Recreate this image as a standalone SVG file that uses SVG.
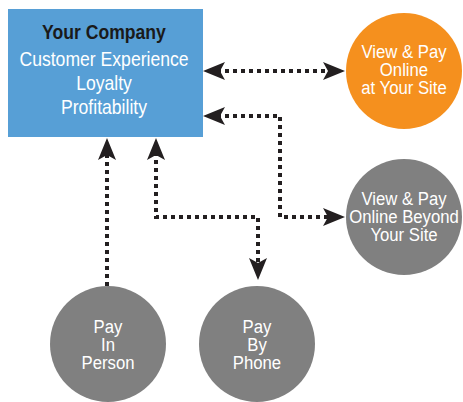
<svg xmlns="http://www.w3.org/2000/svg" width="463" height="402" viewBox="0 0 463 402">
  <style>
    .t { font-family: "Liberation Sans", Arial, sans-serif; font-size: 19px; fill: #ffffff; text-anchor: middle; }
    .bt { font-family: "Liberation Sans", Arial, sans-serif; font-size: 20px; fill: #ffffff; text-anchor: middle; }
    .conn { fill: none; stroke: #231f20; stroke-width: 4; stroke-dasharray: 4 4; }
  </style>
  <defs>
    <marker id="arr" markerUnits="userSpaceOnUse" markerWidth="40" markerHeight="40" viewBox="-20 -20 40 40" refX="0" refY="0" orient="auto-start-reverse">
      <path d="M14,0 L-8,-9 L-3,0 L-8,9 Z" fill="#231f20"/>
    </marker>
  </defs>
  <rect width="463" height="402" fill="#ffffff"/>

  <g id="company">
    <rect x="8" y="9" width="195" height="128" fill="#579fd6"/>
    <g transform="translate(104,0) scale(0.88,1)">
      <text class="bt" x="0" y="39" style="font-weight:bold; fill:#1a1a1a">Your Company</text>
      <text class="bt" x="0" y="66">Customer Experience</text>
      <text class="bt" x="0" y="90">Loyalty</text>
      <text class="bt" x="0" y="114">Profitability</text>
    </g>
  </g>

  <g id="online-site">
    <circle cx="404" cy="71" r="58" fill="#f5901e"/>
    <g transform="translate(404,0) scale(0.88,1)">
      <text class="t" x="0" y="58">View &amp; Pay</text>
      <text class="t" x="0" y="76">Online</text>
      <text class="t" x="0" y="94">at Your Site</text>
    </g>
  </g>

  <g id="online-beyond">
    <circle cx="404" cy="217" r="58" fill="#808080"/>
    <g transform="translate(404,0) scale(0.88,1)">
      <text class="t" x="0" y="205">View &amp; Pay</text>
      <text class="t" x="0" y="223">Online Beyond</text>
      <text class="t" x="0" y="241">Your Site</text>
    </g>
  </g>

  <g id="in-person">
    <circle cx="108" cy="344" r="58" fill="#808080"/>
    <g transform="translate(108,0) scale(0.88,1)">
      <text class="t" x="0" y="333">Pay</text>
      <text class="t" x="0" y="351">In</text>
      <text class="t" x="0" y="369">Person</text>
    </g>
  </g>

  <g id="by-phone">
    <circle cx="257" cy="344" r="58" fill="#808080"/>
    <g transform="translate(257,0) scale(0.88,1)">
      <text class="t" x="0" y="333">Pay</text>
      <text class="t" x="0" y="351">By</text>
      <text class="t" x="0" y="369">Phone</text>
    </g>
  </g>

  <g id="connectors">
    <path class="conn" d="M217,71 H331" marker-start="url(#arr)" marker-end="url(#arr)"/>
    <path class="conn" d="M217,116 H280 V217 H331" marker-start="url(#arr)" marker-end="url(#arr)"/>
    <path class="conn" d="M107,286 V152" marker-end="url(#arr)"/>
    <path class="conn" d="M156,152 V217 H258 V266" marker-start="url(#arr)" marker-end="url(#arr)"/>
  </g>
</svg>
